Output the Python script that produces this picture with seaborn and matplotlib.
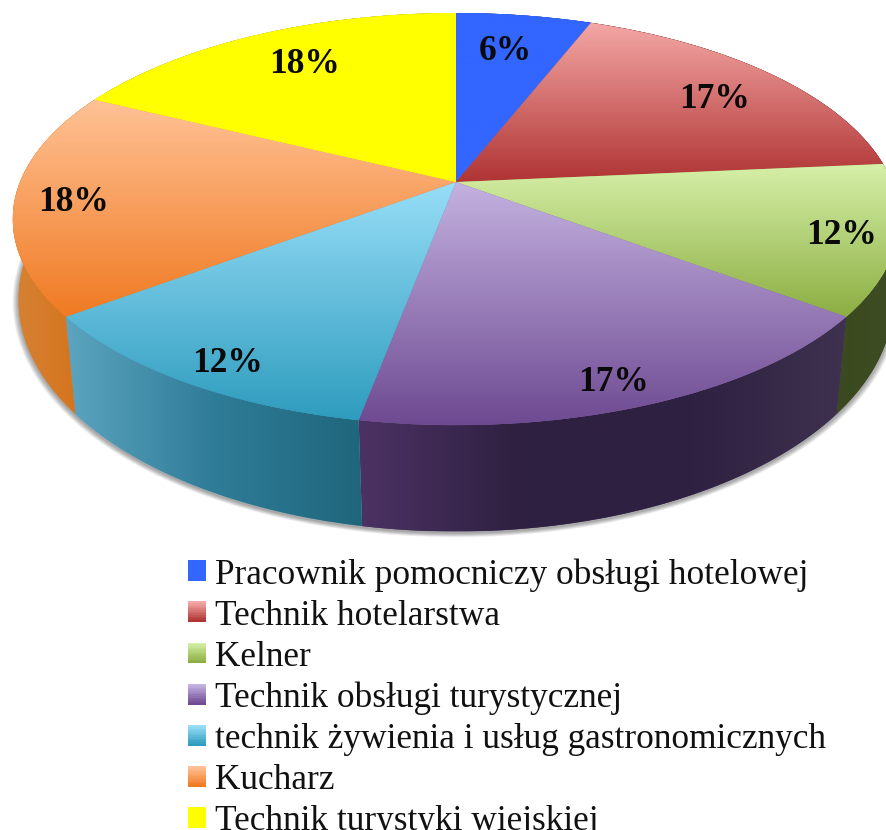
import numpy as np
import matplotlib
matplotlib.use("Agg")
import matplotlib.pyplot as plt
import seaborn as sns
from matplotlib.patches import Polygon, Rectangle
from matplotlib.transforms import Transform
from matplotlib.legend_handler import HandlerPatch

# ---- data ----
categories = ["Pracownik pomocniczy obsługi hotelowej", "Technik hotelarstwa", "Kelner",
              "Technik obsługi turystycznej", "technik żywienia i usług gastronomicznych",
              "Kucharz", "Technik turystyki wiejskiej"]
values = [6, 18, 12, 18, 12, 18, 18]
shown_percent = ["6%", "17%", "12%", "17%", "12%", "18%", "18%"]

# ---- style ----
top_light = ["#3366FF", "#F4A8A6", "#D6F0A8", "#C4B2E0", "#98DEF8", "#FFC296", "#FFFF00"]
top_dark = ["#3366FF", "#B03434", "#8CAE42", "#6E4A92", "#2E9CBE", "#F07A22", "#FFFF00"]
side_cols = [["#1E3C90", "#1E3C90"], ["#6A2020", "#6A2020"], ["#3A4A1E", "#3E4C24"],
             ["#4C3264", "#2E2040", "#2E2040", "#3E3250"], ["#5CA4C0", "#2F7C98", "#1F667C"],
             ["#D68234", "#D47018"], ["#909000", "#909000"]]
label_radius = [0.78, 0.79, 0.88, 0.90, 0.89, 0.87, 0.78]
label_dx = [-6, 5, 0, -9, 8, 1, 8]
label_dy = [4, 5, 3, 3, 7, 4, 1]
CX, CY = 456.0, 182.0
TOP = dict(a=436.0, b=199.4, c=0.0, k=0.18)
BOTTOM = dict(a=432.0, b=226.0, c=-81.4, k=0.157)
W, H = 887, 830

sns.set_theme(style="white")
plt.rcParams["font.family"] = ["Liberation Serif", "DejaVu Serif"]


def tilt(xy, g=TOP):
    xy = np.asarray(xy, float)
    w = 1 + g["k"] * xy[:, 1]
    X = g["a"] * xy[:, 0] / w
    Y = g["c"] + g["b"] * xy[:, 1] / w
    return np.column_stack([CX + X, CY - Y])


class Tilt(Transform):
    input_dims = output_dims = 2
    is_affine = False
    has_inverse = False

    def transform_non_affine(self, values):
        return tilt(values)


def arc(t1, t2, r=1.0):
    a = np.radians(np.linspace(t1, t2, 160))
    return np.column_stack([r * np.cos(a), r * np.sin(a)])


fig = plt.figure(figsize=(W / 100, H / 100), dpi=100, facecolor="white")
ax = fig.add_axes([0, 0, 1, 1])
wedges, _ = ax.pie(values, startangle=90, counterclock=False, radius=1, wedgeprops={"linewidth": 0})
ax.set_aspect("auto")
ground = np.linspace(0, 1, 256)[:, None]

# soft shadow below the rim
for i in range(9, 0, -1):
    ring = tilt(arc(0, 360, 1 + 0.0015 * i), BOTTOM) + [0, 1.5]
    ax.add_patch(Polygon(ring, closed=True, fc="#000000", alpha=0.045, lw=0, zorder=1))

# rim of each slice
for w, cols in zip(wedges, side_cols):
    a = arc(w.theta1, w.theta2)
    top = tilt(a)
    bot = tilt(a, BOTTOM)
    poly = Polygon(np.vstack([top, bot[::-1]]), closed=True, fc=cols[0], lw=0, zorder=2)
    ax.add_patch(poly)
    cmap = sns.blend_palette(cols, as_cmap=True)
    xs = np.concatenate([top[:, 0], bot[:, 0]])
    ys = np.concatenate([top[:, 1], bot[:, 1]])
    im = ax.imshow(ground.T, cmap=cmap, aspect="auto", zorder=2,
                   extent=(xs.min(), xs.max(), ys.max(), ys.min()))
    im.set_clip_path(poly)

# top surface
for w, lo, hi in zip(wedges, top_light, top_dark):
    w.set_transform(Tilt() + ax.transData)
    w.set_facecolor(hi)
    w.set_zorder(3)
    a = arc(w.theta1, w.theta2)
    pts = np.vstack([tilt(a), [[CX, CY]]])
    cmap = sns.blend_palette([lo, hi], as_cmap=True)
    im = ax.imshow(ground, cmap=cmap, aspect="auto", zorder=3.5,
                   extent=(pts[:, 0].min(), pts[:, 0].max(), pts[:, 1].max(), pts[:, 1].min()))
    im.set_clip_path(w)

# percent labels
for w, txt, r, dx, dy in zip(wedges, shown_percent, label_radius, label_dx, label_dy):
    mid = np.radians((w.theta1 + w.theta2) / 2)
    p = tilt([[r * np.cos(mid), r * np.sin(mid)]])[0]
    ax.text(p[0] + dx, p[1] + dy, txt, ha="center", va="center", fontsize=25.5, fontweight="bold",
            color="#0A0A0A", zorder=5)

ax.set_xlim(0, W)
ax.set_ylim(H, 0)
ax.axis("off")


class GradientHandler(HandlerPatch):
    def create_artists(self, legend, orig, xd, yd, width, height, fontsize, trans):
        lo, hi = orig.get_gid().split("|")
        cols = sns.blend_palette([lo, hi], 12)
        out = []
        for k, c in enumerate(cols):
            out.append(Rectangle((-xd, -yd + height * (1 - (k + 1) / 12)), width, height / 12 + 0.3,
                                 fc=c, lw=0, transform=trans))
        return out


handles = []
for lo, hi, name in zip(top_light, top_dark, categories):
    h = Rectangle((0, 0), 1, 1, label=name, gid=f"{lo}|{hi}")
    handles.append(h)

FS = 25.4
leg = ax.legend(handles=handles, handler_map={Rectangle: GradientHandler()},
                loc="upper left", bbox_to_anchor=(188 / W, 1 - 558 / H), bbox_transform=fig.transFigure,
                frameon=False, fontsize=FS, borderpad=0, borderaxespad=0,
                handlelength=18 * 0.72 / FS, handleheight=18 * 0.72 / FS,
                handletextpad=9 * 0.72 / FS, labelspacing=0.229)
for t in leg.get_texts():
    t.set_color("#111111")

fig.savefig("out.png", dpi=100, facecolor="white")
